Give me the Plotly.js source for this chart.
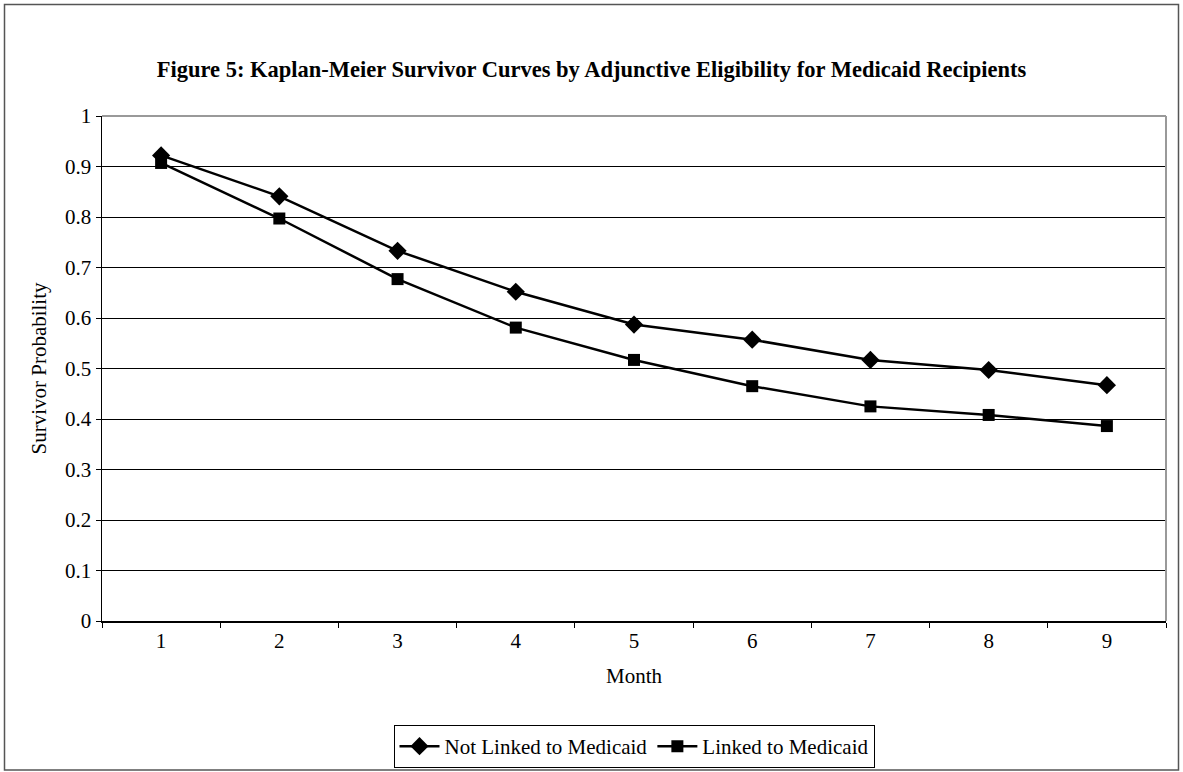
<!DOCTYPE html>
<html>
<head>
<meta charset="utf-8">
<script src="https://cdn.plot.ly/plotly-3.0.1.min.js"></script>
<style>
html,body{margin:0;padding:0;background:#fff;}
#chart{width:1183px;height:772px;}
</style>
</head>
<body>
<div id="chart"></div>
<script>
var months = ['1','2','3','4','5','6','7','8','9'];
var notLinked = [0.922, 0.841, 0.733, 0.652, 0.587, 0.557, 0.517, 0.497, 0.467];
var linked = [0.907, 0.797, 0.677, 0.581, 0.517, 0.465, 0.425, 0.408, 0.386];
var seriesNames = ['Not Linked to Medicaid', 'Linked to Medicaid'];
var titleText = 'Figure 5: Kaplan-Meier Survivor Curves by Adjunctive Eligibility for Medicaid Recipients';

var font = 'Liberation Serif';
var fs = 21;

var traces = [
  {x: months, y: notLinked, name: seriesNames[0], type: 'scatter', mode: 'lines+markers',
   line: {color: '#000', width: 2.5}, marker: {symbol: 'diamond', size: 14, color: '#000'}},
  {x: months, y: linked, name: seriesNames[1], type: 'scatter', mode: 'lines+markers',
   line: {color: '#000', width: 2.5}, marker: {symbol: 'square', size: 12, color: '#000'}}
];

var layout = {
  width: 1183, height: 772,
  margin: {l: 102, r: 17, t: 116, b: 151, pad: 0, autoexpand: false},
  paper_bgcolor: '#fff', plot_bgcolor: '#fff',
  font: {family: font, size: fs, color: '#000'},
  title: {text: '<b>' + titleText + '</b>', x: 0.5, xref: 'container', xanchor: 'center',
          y: 1 - 69 / 772, yref: 'container', yanchor: 'middle', font: {family: font, size: 22.5, color: '#000'}},
  showlegend: true,
  legend: {orientation: 'h', x: 634 / 1183, xref: 'container', xanchor: 'center',
           y: 1 - 746.5 / 772, yref: 'container', yanchor: 'middle',
           bordercolor: '#000', borderwidth: 1, font: {family: font, size: fs, color: '#000'},
           tracegroupgap: 0, itemwidth: 40},
  xaxis: {type: 'category', range: [-0.5, 8.5], tickson: 'boundaries', ticks: 'outside',
          ticklen: 5, tickcolor: '#000', showline: true, linecolor: '#000', linewidth: 1.5,
          showgrid: false, zeroline: false, fixedrange: true, automargin: false,
          tickfont: {family: font, size: fs, color: '#000'},
          title: {text: 'Month', font: {family: font, size: fs, color: '#000'}, standoff: 16}},
  yaxis: {range: [0, 1], dtick: 0.1, tick0: 0, ticks: 'outside', ticklen: 5, tickcolor: '#000',
          showline: true, linecolor: '#000', linewidth: 1.5, showgrid: true, gridcolor: '#000',
          gridwidth: 1, zeroline: false, fixedrange: true, tickformat: '~g', automargin: false,
          tickfont: {family: font, size: fs, color: '#000'},
          title: {text: 'Survivor Probability', font: {family: font, size: fs, color: '#000'}, standoff: 12}},
  shapes: [
    {type: 'line', xref: 'paper', yref: 'paper', x0: 0, x1: 1, y0: 1, y1: 1,
     line: {color: '#999', width: 2}, layer: 'above'},
    {type: 'line', xref: 'paper', yref: 'paper', x0: 1, x1: 1, y0: 0, y1: 1,
     line: {color: '#999', width: 2}, layer: 'above'},
    {type: 'rect', xref: 'paper', yref: 'paper',
     x0: (4.5 - 102) / 1064, x1: (1178.5 - 102) / 1064,
     y0: (621 - 770) / 505, y1: (621 - 4.5) / 505,
     line: {color: '#555', width: 1.5}, fillcolor: 'rgba(0,0,0,0)', layer: 'below'}
  ]
};

Plotly.newPlot('chart', traces, layout, {displayModeBar: false, staticPlot: true});
</script>
</body>
</html>
